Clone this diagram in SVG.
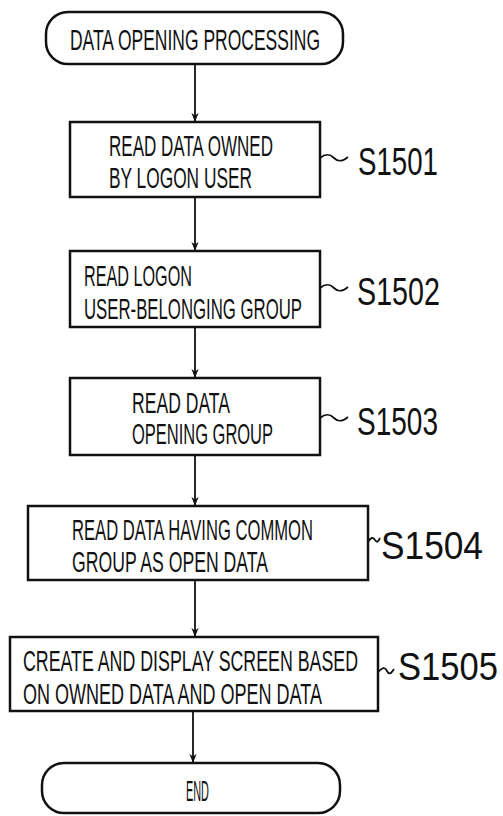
<svg xmlns="http://www.w3.org/2000/svg" width="503" height="816" viewBox="0 0 503 816">
<style>
.box{fill:#fff;stroke:#111;stroke-width:2.5}
.t{font-family:"Liberation Sans",Arial,sans-serif;font-size:30px;fill:#111}
.lbl{font-family:"Liberation Sans",Arial,sans-serif;font-size:38px;fill:#111}
.con{fill:none;stroke:#111;stroke-width:1.8}
</style>
<defs>
<marker id="ah" viewBox="0 0 10 10" refX="9" refY="5" markerWidth="9" markerHeight="9" markerUnits="userSpaceOnUse" orient="auto">
<path d="M0,1 L10,5 L0,9 L3,5 Z" fill="#111"/>
</marker>
</defs>
<rect width="503" height="816" fill="#fff"/>
<g id="connectors">
<line class="con" x1="195" y1="64" x2="195" y2="121" marker-end="url(#ah)"/>
<line class="con" x1="195" y1="197" x2="195" y2="250" marker-end="url(#ah)"/>
<line class="con" x1="195" y1="327" x2="195" y2="377" marker-end="url(#ah)"/>
<line class="con" x1="195" y1="455" x2="195" y2="505" marker-end="url(#ah)"/>
<line class="con" x1="195" y1="580" x2="195" y2="636" marker-end="url(#ah)"/>
<line class="con" x1="193" y1="711" x2="193" y2="762" marker-end="url(#ah)"/>
<path class="con" d="M320,158 c6,-5 10,-4 14,0 s8,4 14,-1"/>
<path class="con" d="M320,288 c6,-5 10,-4 14,0 s8,4 14,-1"/>
<path class="con" d="M320,418 c6,-5 10,-4 14,0 s8,4 14,-1"/>
<path class="con" d="M368,542 c3,-5 5,-5 7,-2 s3,2 5,-2"/>
<path class="con" d="M378,672 c5,-5 7,-5 9,-1 s4,3 7,-2"/>
</g>
<g id="start">
<rect class="box" x="46" y="12" width="297" height="52" rx="22"/>
<text class="t" transform="scale(0.6,1)" x="116.67" y="50" textLength="416.67" lengthAdjust="spacingAndGlyphs">DATA OPENING PROCESSING</text>
</g>
<g id="s1501">
<rect class="box" x="70" y="122" width="250" height="75"/>
<text class="t" transform="scale(0.6,1)" x="181.67" y="156" textLength="273.33" lengthAdjust="spacingAndGlyphs">READ DATA OWNED</text>
<text class="t" transform="scale(0.6,1)" x="181.67" y="188" textLength="238.33" lengthAdjust="spacingAndGlyphs">BY LOGON USER</text>
<text class="lbl" transform="scale(0.75,1)" x="477.33" y="175" textLength="106.67" lengthAdjust="spacingAndGlyphs">S1501</text>
</g>
<g id="s1502">
<rect class="box" x="70" y="251" width="250" height="76"/>
<text class="t" transform="scale(0.6,1)" x="140" y="286" textLength="180" lengthAdjust="spacingAndGlyphs">READ LOGON</text>
<text class="t" transform="scale(0.6,1)" x="140" y="319" textLength="363.33" lengthAdjust="spacingAndGlyphs">USER-BELONGING GROUP</text>
<text class="lbl" transform="scale(0.75,1)" x="476" y="305" textLength="110.67" lengthAdjust="spacingAndGlyphs">S1502</text>
</g>
<g id="s1503">
<rect class="box" x="70" y="378" width="250" height="77"/>
<text class="t" transform="scale(0.6,1)" x="220" y="413" textLength="163.33" lengthAdjust="spacingAndGlyphs">READ DATA</text>
<text class="t" transform="scale(0.6,1)" x="220" y="444" textLength="235" lengthAdjust="spacingAndGlyphs">OPENING GROUP</text>
<text class="lbl" transform="scale(0.75,1)" x="476" y="435" textLength="108" lengthAdjust="spacingAndGlyphs">S1503</text>
</g>
<g id="s1504">
<rect class="box" x="28" y="506" width="340" height="74"/>
<text class="t" transform="scale(0.6,1)" x="120" y="540" textLength="401.67" lengthAdjust="spacingAndGlyphs">READ DATA HAVING COMMON</text>
<text class="t" transform="scale(0.6,1)" x="120" y="572" textLength="326.67" lengthAdjust="spacingAndGlyphs">GROUP AS OPEN DATA</text>
<text class="lbl" transform="scale(0.75,1)" x="508" y="559" textLength="136" lengthAdjust="spacingAndGlyphs">S1504</text>
</g>
<g id="s1505">
<rect class="box" x="10" y="637" width="368" height="74"/>
<text class="t" transform="scale(0.6,1)" x="38.33" y="671" textLength="558.33" lengthAdjust="spacingAndGlyphs">CREATE AND DISPLAY SCREEN BASED</text>
<text class="t" transform="scale(0.6,1)" x="38.33" y="704" textLength="498.33" lengthAdjust="spacingAndGlyphs">ON OWNED DATA AND OPEN DATA</text>
<text class="lbl" transform="scale(0.75,1)" x="530.67" y="680" textLength="133.33" lengthAdjust="spacingAndGlyphs">S1505</text>
</g>
<g id="end">
<rect class="box" x="42" y="763" width="298" height="50" rx="22"/>
<text class="t" transform="scale(0.6,1)" x="310" y="801" textLength="38.33" lengthAdjust="spacingAndGlyphs">END</text>
</g>
</svg>
